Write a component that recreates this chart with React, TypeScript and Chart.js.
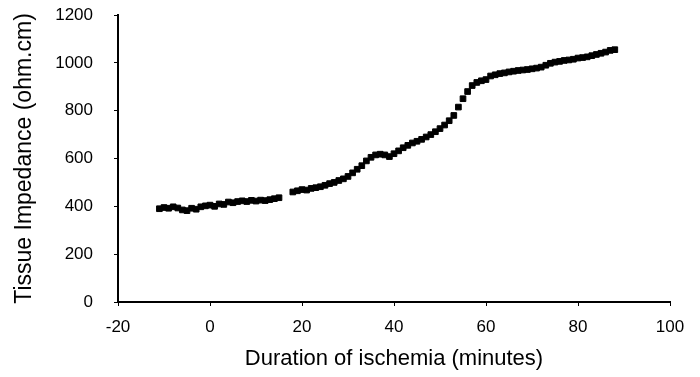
import React, { useEffect, useRef } from "react";
import { Chart, registerables } from "chart.js";

Chart.register(...registerables);

// Duration of ischemia (minutes)
const minutes: number[] = [
  -11, -10, -9, -8, -7, -6, -5, -4, -3, -2, -1, 0, 1, 2, 3, 4, 5, 6, 7, 8, 9, 10,
  11, 12, 13, 14, 15, 18, 19, 20, 21, 22, 23, 24, 25, 26, 27, 28, 29, 30, 31, 32,
  33, 34, 35, 36, 37, 38, 39, 40, 41, 42, 43, 44, 45, 46, 47, 48, 49, 50, 51, 52,
  53, 54, 55, 56, 57, 58, 59, 60, 61, 62, 63, 64, 65, 66, 67, 68, 69, 70, 71, 72,
  73, 74, 75, 76, 77, 78, 79, 80, 81, 82, 83, 84, 85, 86, 87, 88,
];

// Tissue impedance (ohm.cm)
const impedance: number[] = [
  390, 395, 392, 398, 393, 385, 382, 392, 388, 398, 402, 405, 400, 410, 408, 418,
  415, 420, 423, 420, 425, 422, 426, 424, 428, 432, 436, 460, 465, 470, 468, 475,
  478, 482, 488, 495, 500, 508, 515, 525, 540, 555, 570, 590, 605, 615, 618, 615,
  608, 620, 632, 645, 655, 665, 672, 680, 690, 700, 712, 725, 740, 758, 780, 815,
  850, 880, 905, 918, 925, 930, 945, 950, 955, 958, 962, 965, 968, 970, 972, 975,
  978, 982, 990, 998, 1003, 1006, 1010, 1012, 1015, 1020, 1022, 1025, 1030, 1035,
  1040, 1045, 1052, 1055,
];

const xTicks: number[] = [-20, 0, 20, 40, 60, 80, 100];
const yTicks: number[] = [0, 200, 400, 600, 800, 1000, 1200];

const xTitle = "Duration of ischemia (minutes)";
const yTitle = "Tissue Impedance (ohm.cm)";

const FONT = "'Liberation Sans', Arial, Helvetica, sans-serif";

export default function App() {
  const ref = useRef<HTMLCanvasElement | null>(null);

  useEffect(() => {
    document.body.style.margin = "0";
    const canvas = ref.current;
    if (!canvas) return;
    const points = minutes.map((m, i) => ({ x: m, y: impedance[i] }));
    const chart = new Chart(canvas, {
      type: "scatter",
      data: {
        datasets: [
          {
            label: "Tissue impedance",
            data: points,
            pointStyle: "rect",
            pointRadius: 4,
            pointBorderWidth: 1,
            backgroundColor: "#000",
            borderColor: "#000",
            showLine: false,
          },
        ],
      },
      options: {
        responsive: false,
        animation: false,
        devicePixelRatio: 1,
        layout: { padding: { left: 0, right: 30, top: 15, bottom: 0 } },
        plugins: {
          legend: { display: false },
          tooltip: { enabled: false },
        },
        scales: {
          x: {
            type: "linear",
            min: xTicks[0],
            max: xTicks[xTicks.length - 1],
            afterBuildTicks: (s: any) => {
              s.ticks = xTicks.map((v) => ({ value: v }));
            },
            afterFit: (s: any) => {
              s.height = 75;
            },
            grid: {
              display: true,
              drawOnChartArea: false,
              drawTicks: true,
              tickLength: 4,
              color: "#000",
              lineWidth: 1,
            },
            border: { display: true, color: "#000", width: 2 },
            ticks: {
              color: "#000",
              padding: 11,
              maxRotation: 0,
              callback: (v: any) => String(v),
              font: { family: FONT, size: 17 },
            },
            title: {
              display: true,
              text: xTitle,
              color: "#000",
              font: { family: FONT, size: 22 },
              padding: { top: 0, bottom: 5 },
            },
          },
          y: {
            type: "linear",
            min: yTicks[0],
            max: yTicks[yTicks.length - 1],
            afterBuildTicks: (s: any) => {
              s.ticks = yTicks.map((v) => ({ value: v }));
            },
            afterFit: (s: any) => {
              s.width = 118;
              s.paddingTop = 0;
              s.paddingBottom = 0;
            },
            grid: {
              display: true,
              drawOnChartArea: false,
              drawTicks: true,
              tickLength: 4,
              color: "#000",
              lineWidth: 1,
            },
            border: { display: true, color: "#000", width: 2 },
            ticks: {
              color: "#000",
              padding: 21,
              callback: (v: any) => String(v),
              font: { family: FONT, size: 17 },
            },
            title: {
              display: true,
              text: yTitle,
              color: "#000",
              font: { family: FONT, size: 23 },
              padding: { top: 11, bottom: 0 },
            },
          },
        },
      },
    });
    return () => chart.destroy();
  }, []);

  return (
    <div style={{ position: "fixed", left: 0, top: 0, width: 700, height: 377, background: "#fff" }}>
      <canvas ref={ref} width={700} height={377} style={{ display: "block", width: 700, height: 377 }} />
    </div>
  );
}
